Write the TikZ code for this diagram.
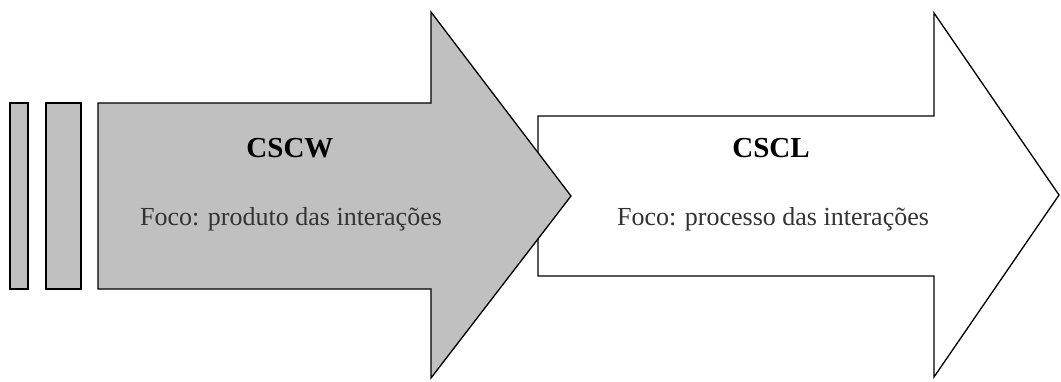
\documentclass[tikz,border=0pt]{standalone}
\usepackage{fontspec}
\setmainfont{Liberation Serif}
\begin{document}
\begin{tikzpicture}[x=1pt,y=-1pt,
  outline/.style={draw=black,line width=1.3pt,line join=miter},
  grayfill/.style={outline,fill=arrowgray},
  title/.style={font=\fontsize{29}{32}\selectfont\bfseries,anchor=base,inner sep=0pt},
  focus/.style={font=\fontsize{26}{30}\selectfont,text=black!80,anchor=base,inner sep=0pt}]
\definecolor{arrowgray}{HTML}{C0C0C0}
\useasboundingbox (0,0) rectangle (1061,381);

% white arrow (behind)
\draw[outline,fill=white] (538,116) -- (934,116) -- (934,13) -- (1059,195)
  -- (934,377) -- (934,276) -- (538,276) -- cycle;

% gray arrow with its two trailing bars
\draw[grayfill] (10,103) rectangle (28,289);
\draw[grayfill] (46,103) rectangle (81,289);
\draw[grayfill] (98,103) -- (431,103) -- (431,12) -- (571,196)
  -- (431,378) -- (431,289) -- (98,289) -- cycle;

% labels
\node[title] (cscw) at (290,157) {CSCW};
\node[focus] (cscwtxt) at (291,225) {Foco: produto das interações};
\node[title] (cscl) at (771,157) {CSCL};
\node[focus] (cscltxt) at (773,225) {Foco: processo das interações};
\end{tikzpicture}
\end{document}
